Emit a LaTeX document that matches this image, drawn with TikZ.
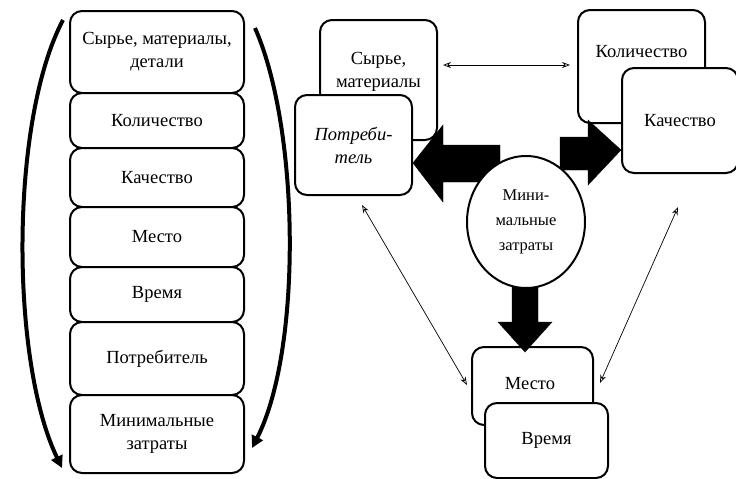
\documentclass[tikz,border=0pt]{standalone}
\usepackage{fontspec}
\setmainfont{Liberation Serif}
\usetikzlibrary{arrows.meta,shapes.geometric}
\begin{document}
\begin{tikzpicture}[x=1pt,y=-1pt,
  box/.style={draw, line width=2pt, rounded corners=12pt, fill=white, inner sep=0pt, align=center},
  lbl/.style={font=\fontsize{18.5}{23}\selectfont, align=center, inner sep=0pt},
  thin/.style={line width=0.7pt, {Stealth[length=8pt,width=6pt,open]}-{Stealth[length=8pt,width=6pt,open]}},
  bigarr/.style={fill=black, draw=black},
  curl/.style={line width=4pt, -{Triangle[length=12pt,width=12pt]}}
]
\useasboundingbox (0,0) rectangle (736,479);
% left column
\node[box, minimum width=174pt, minimum height=82pt, lbl] (l1) at (157,52) {Сырье, материалы,\\детали};
\node[box, minimum width=174pt, minimum height=55pt, lbl] (l2) at (157,120.5) {Количество};
\node[box, minimum width=174pt, minimum height=59pt, lbl] (l3) at (157,177.5) {Качество};
\node[box, minimum width=174pt, minimum height=60pt, lbl] (l4) at (157,237) {Место};
\node[box, minimum width=174pt, minimum height=55pt, lbl] (l5) at (157,294.5) {Время};
\node[box, minimum width=174pt, minimum height=73pt, lbl] (l6) at (157,358.5) {Потребитель};
\node[box, minimum width=174pt, minimum height=78pt, lbl] (l7) at (157,434) {Минимальные\\затраты};
% arcs
\coordinate (la0) at (63,20);
\coordinate (la1) at (62,468);
\coordinate (ra0) at (255,28);
\coordinate (ra1) at (252,448);
\draw[curl] (la0) .. controls (10,120) and (10,360) .. (la1);
\draw[curl] (ra0) .. controls (300,130) and (302,350) .. (ra1);
% right part
\node[box, minimum width=117pt, minimum height=120pt] (syr) at (378.5,80) {};
\node[lbl] (syrt) at (378.5,72) {Сырье,\\материалы};
\node[box, minimum width=117pt, minimum height=100pt, lbl, font=\fontsize{18.5}{23}\selectfont\itshape] (potr) at (353.5,145) {Потреби-\\тель};
\node[box, minimum width=127pt, minimum height=113pt] (kol) at (641.5,66.5) {};
\node[lbl] (kolt) at (641.5,52) {Количество};
\node[box, minimum width=116pt, minimum height=105pt, lbl] (kach) at (680,120.5) {Качество};
\node[box, minimum width=121pt, minimum height=78pt] (mesto) at (532.5,386) {};
\node[lbl] (mestot) at (530,384) {Место};
\node[box, minimum width=123pt, minimum height=75pt, lbl] (vrem) at (546.5,440.5) {Время};
% big arrows
\fill[bigarr] (500,145) -- (443,145) -- (443,125) -- (potr.east |- 0,163) -- (443,202) -- (443,182) -- (500,182) -- cycle;
\fill[bigarr] (560,137) -- (588,137) -- (588,120) -- (kach.west |- 0,150) -- (588,185) -- (588,170) -- (560,170) -- cycle;
\fill[bigarr] (512,280) -- (538,280) -- (538,322) -- (552,322) -- (525,352) -- (498,322) -- (512,322) -- cycle;
% ellipse
\node[ellipse, draw, line width=2pt, fill=white, minimum width=118pt, minimum height=132pt, inner sep=0pt, align=center, font=\fontsize{16.5}{25}\selectfont] (min) at (526,222) {Мини-\\мальные\\затраты};
% thin arrows
\coordinate (t1) at (443,65);
\coordinate (t2) at (570,65);
\draw[thin] (t1) -- (t2);
\draw[thin] (362,205) -- (467,385);
\draw[thin] (678,207) -- (600,383);
\end{tikzpicture}
\end{document}
